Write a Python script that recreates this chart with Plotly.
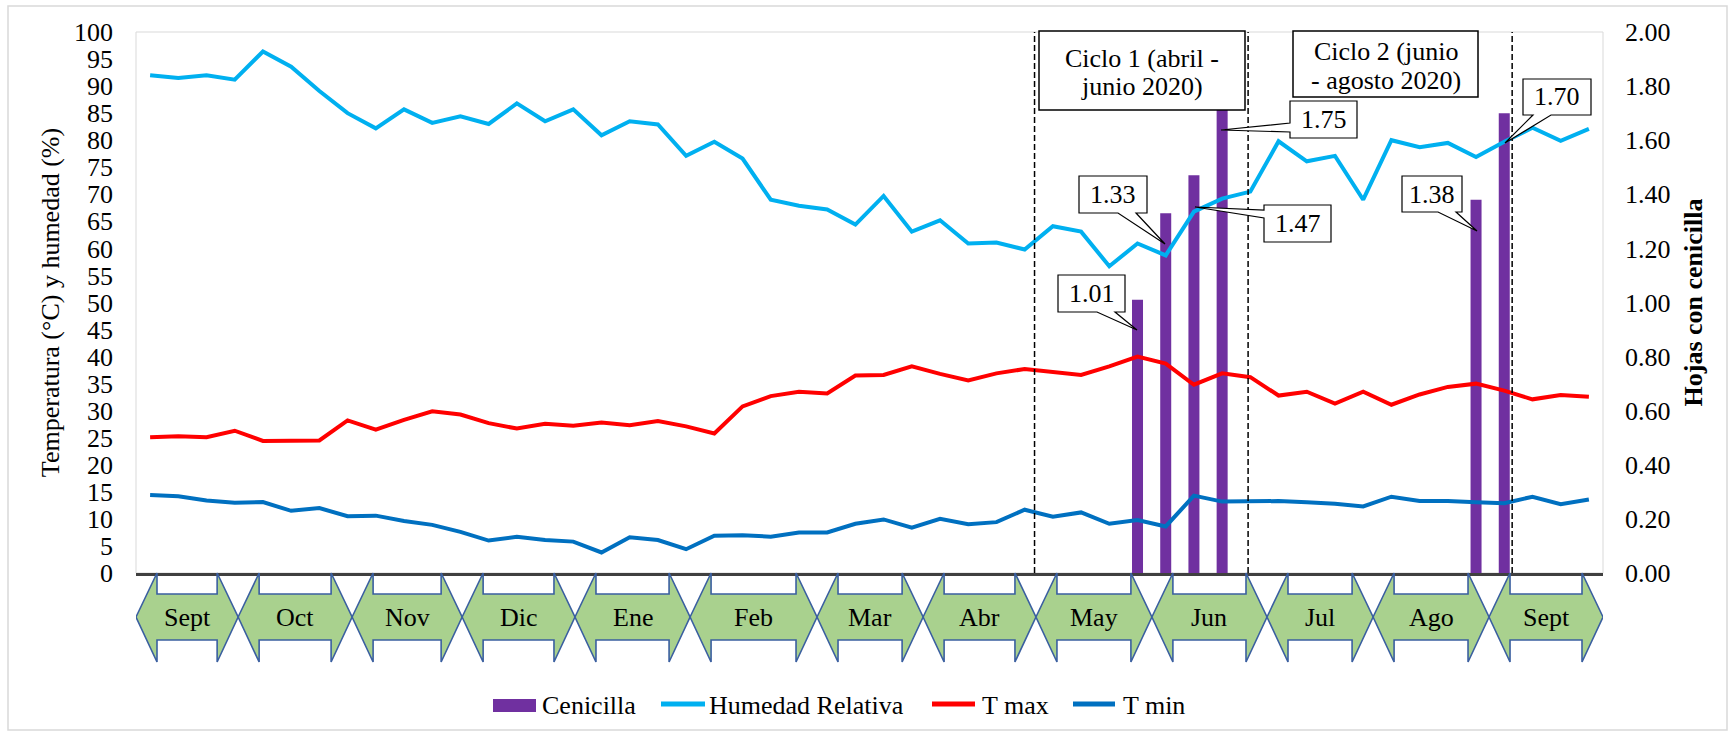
import plotly.graph_objects as go

# weekly records, Sept 2019 - Sept 2020 (index 0..51)
weeks = list(range(52))
humedad = [92.0, 91.5, 92.0, 91.2, 96.4, 93.6, 89.1, 85.0, 82.2, 85.7,
           83.2, 84.4, 83.0, 86.8, 83.5, 85.7, 80.9, 83.5, 82.9, 77.1,
           79.7, 76.6, 69.0, 67.9, 67.2, 64.4, 69.7, 63.1, 65.2, 60.9,
           61.1, 59.8, 64.1, 63.1, 56.7, 60.9, 58.7, 66.8, 69.2, 70.5,
           79.8, 76.1, 77.1, 69.0, 80.0, 78.7, 79.5, 76.9, 79.7, 82.3,
           79.9, 82.1]
t_max = [25.1, 25.3, 25.1, 26.3, 24.4, 24.5, 24.5, 28.2, 26.5, 28.3,
         29.9, 29.3, 27.7, 26.7, 27.6, 27.2, 27.8, 27.3, 28.1, 27.1,
         25.8, 30.8, 32.7, 33.5, 33.2, 36.5, 36.6, 38.2, 36.8, 35.6,
         36.9, 37.7, 37.1, 36.6, 38.2, 40.0, 38.7, 34.8, 36.9, 36.2,
         32.8, 33.5, 31.3, 33.5, 31.1, 33.0, 34.4, 35.0, 33.7, 32.1,
         32.9, 32.6]
t_min = [14.4, 14.2, 13.4, 13.0, 13.1, 11.5, 12.0, 10.5, 10.6, 9.6,
         8.9, 7.6, 6.0, 6.7, 6.1, 5.8, 3.8, 6.6, 6.1, 4.4,
         6.9, 7.0, 6.7, 7.5, 7.5, 9.1, 9.9, 8.4, 10.0, 9.0,
         9.4, 11.7, 10.4, 11.2, 9.1, 9.8, 8.6, 14.3, 13.2, 13.2,
         13.3, 13.1, 12.8, 12.3, 14.1, 13.3, 13.3, 13.1, 12.9, 14.1,
         12.7, 13.6]
cenicilla_weeks = [35, 36, 37, 38, 47, 48]
cenicilla = [1.01, 1.33, 1.47, 1.75, 1.38, 1.70]

month_labels = ["Sept", "Oct", "Nov", "Dic", "Ene", "Feb", "Mar",
                "Abr", "May", "Jun", "Jul", "Ago", "Sept"]
month_edges = [-0.5, 3.12, 7.16, 11.06, 15.06, 19.14, 23.64,
               27.40, 31.40, 35.51, 39.59, 43.35, 47.46, 51.5]
cycle_marks = [31.35, 38.92, 48.28]

FONT = "Liberation Serif, Times New Roman, serif"
PURPLE, CYAN, RED, BLUE = "#7030A0", "#00B0F0", "#FF0000", "#0070C0"
W, H = 1734, 735
L, R, T, B = 136, 1603, 32, 573


def px(x):
    return (x - L) / (R - L)


def py(y):
    return (B - y) / (B - T)


fig = go.Figure()

# bars on the right axis (y), lines on the left axis (y2) so lines sit on top
fig.add_trace(go.Bar(x=cenicilla_weeks, y=cenicilla, width=0.39,
                     marker=dict(color=PURPLE, line=dict(width=0)),
                     name="Cenicilla", yaxis="y"))
fig.add_trace(go.Scatter(x=weeks, y=humedad, mode="lines", name="Humedad Relativa",
                         line=dict(color=CYAN, width=4), yaxis="y2"))
fig.add_trace(go.Scatter(x=weeks, y=t_max, mode="lines", name="T max",
                         line=dict(color=RED, width=4), yaxis="y2"))
fig.add_trace(go.Scatter(x=weeks, y=t_min, mode="lines", name="T min",
                         line=dict(color=BLUE, width=4), yaxis="y2"))

shapes = []
annotations = []


def label(x, y, text, size=26, anchor="center", xref="paper"):
    annotations.append(dict(x=x, y=y, xref=xref, yref="paper", text=text,
                            showarrow=False, xanchor=anchor, yanchor="middle",
                            font=dict(family=FONT, size=size, color="#000000")))


# outer frame and plot frame
shapes.append(dict(type="rect", xref="paper", yref="paper",
                   x0=px(8), x1=px(1727), y0=py(730), y1=py(6),
                   line=dict(color="#D9D9D9", width=1.5), layer="below"))
shapes.append(dict(type="rect", xref="paper", yref="paper", x0=0, x1=1, y0=0, y1=1,
                   line=dict(color="#D9D9D9", width=1), layer="below"))

# cycle boundaries
for xm in cycle_marks:
    shapes.append(dict(type="line", xref="x", yref="paper", x0=xm, x1=xm, y0=0, y1=1,
                       line=dict(color="#000000", width=1.5, dash="6px,3px"),
                       layer="above"))

# month arrows under the axis
head = 21 / ((R - L) / 52)
y_top, y_st, y_mid, y_sb, y_bot = py(573), py(594), py(617), py(640), py(662)
for i, lab in enumerate(month_labels):
    a, b = month_edges[i], month_edges[i + 1]
    path = (f"M{a},{y_mid} L{a + head},{y_top} L{a + head},{y_st} L{b - head},{y_st} "
            f"L{b - head},{y_top} L{b},{y_mid} L{b - head},{y_bot} L{b - head},{y_sb} "
            f"L{a + head},{y_sb} L{a + head},{y_bot} Z")
    shapes.append(dict(type="path", xref="x", yref="paper", path=path,
                       fillcolor="#A9D18E", line=dict(color="#3A5FA0", width=1.6),
                       layer="above"))
    label((a + b) / 2, y_mid, lab, xref="x")

# cycle boxes
cycle_boxes = [
    (1039, 1245, 31, 110, ["Ciclo 1 (abril -", "junio 2020)"], [58, 87]),
    (1293, 1478, 31, 97, ["Ciclo 2 (junio", "- agosto 2020)"], [51, 80]),
]
for x0, x1, y0, y1, lines, ys in cycle_boxes:
    shapes.append(dict(type="rect", xref="paper", yref="paper",
                       x0=px(x0), x1=px(x1), y0=py(y1), y1=py(y0),
                       fillcolor="#FFFFFF", line=dict(color="#000000", width=1.5),
                       layer="above"))
    for txt, yy in zip(lines, ys):
        label(px((x0 + x1) / 2), py(yy), txt)

# value callouts: box, side of the pointer, pointer base, tip
callouts = [
    ("1.01", (1058, 1125, 275, 312), "bottom", (1097, 1115), (1137, 330)),
    ("1.33", (1079, 1147, 176, 213), "bottom", (1118, 1136), (1165, 244)),
    ("1.47", (1264, 1331, 205, 242), "left", (210, 218), (1195, 207)),
    ("1.75", (1290, 1357, 101, 138), "left", (123, 132), (1221, 130)),
    ("1.38", (1402, 1462, 176, 212), "bottom", (1438, 1456), (1477, 231)),
    ("1.70", (1523, 1591, 79, 115), "bottom", (1533, 1551), (1505, 143)),
]
for txt, (x0, x1, y0, y1), side, (b1, b2), (tx, ty) in callouts:
    if side == "bottom":
        pts = [(x0, y0), (x1, y0), (x1, y1), (b2, y1), (tx, ty), (b1, y1), (x0, y1)]
    else:
        pts = [(x0, y0), (x1, y0), (x1, y1), (x0, y1), (x0, b2), (tx, ty), (x0, b1)]
    path = "M" + " L".join(f"{px(a)},{py(b)}" for a, b in pts) + " Z"
    shapes.append(dict(type="path", xref="paper", yref="paper", path=path,
                       fillcolor="#FFFFFF", line=dict(color="#000000", width=1.2),
                       layer="above"))
    label(px((x0 + x1) / 2), py((y0 + y1) / 2), txt)

# legend row drawn by hand to keep Excel's spacing
shapes.append(dict(type="rect", xref="paper", yref="paper",
                   x0=px(493), x1=px(536), y0=py(712), y1=py(699),
                   fillcolor=PURPLE, line=dict(width=0)))
label(px(540), py(705), "Cenicilla", anchor="left")
for (x0, x1), color, txt, tx in [((661, 705), CYAN, "Humedad Relativa", 707),
                                  ((932, 975), RED, "T max", 980),
                                  ((1073, 1115), BLUE, "T min", 1121)]:
    shapes.append(dict(type="line", xref="paper", yref="paper",
                       x0=px(x0), x1=px(x1), y0=py(704), y1=py(704),
                       line=dict(color=color, width=5)))
    label(px(tx), py(705), txt, anchor="left")

fig.update_layout(
    width=W, height=H,
    margin=dict(l=L, r=W - R, t=T, b=H - B),
    paper_bgcolor="#FFFFFF", plot_bgcolor="#FFFFFF",
    font=dict(family=FONT, size=26, color="#000000"),
    barmode="overlay",
    showlegend=False,
    xaxis=dict(range=[-0.5, 51.5], showticklabels=False, showgrid=False, zeroline=False,
               ticks="", showline=True, linecolor="#404040", linewidth=2.5),
    yaxis=dict(range=[0, 2], side="right", dtick=0.2, tickformat=".2f",
               showgrid=False, zeroline=False, ticks="", ticklabelstandoff=21,
               title=dict(text="<b>Hojas con cenicilla</b>", standoff=14,
                          font=dict(family=FONT, size=26))),
    yaxis2=dict(range=[0, 100], side="left", overlaying="y", dtick=5,
                showgrid=False, zeroline=False, ticks="", ticklabelstandoff=22,
                title=dict(text="Temperatura (°C) y humedad (%)", standoff=6,
                           font=dict(family=FONT, size=26))),
    shapes=shapes,
    annotations=annotations,
)

fig.write_html("out.html", config={"displayModeBar": False},
               post_script="document.body.style.margin='0px';")
